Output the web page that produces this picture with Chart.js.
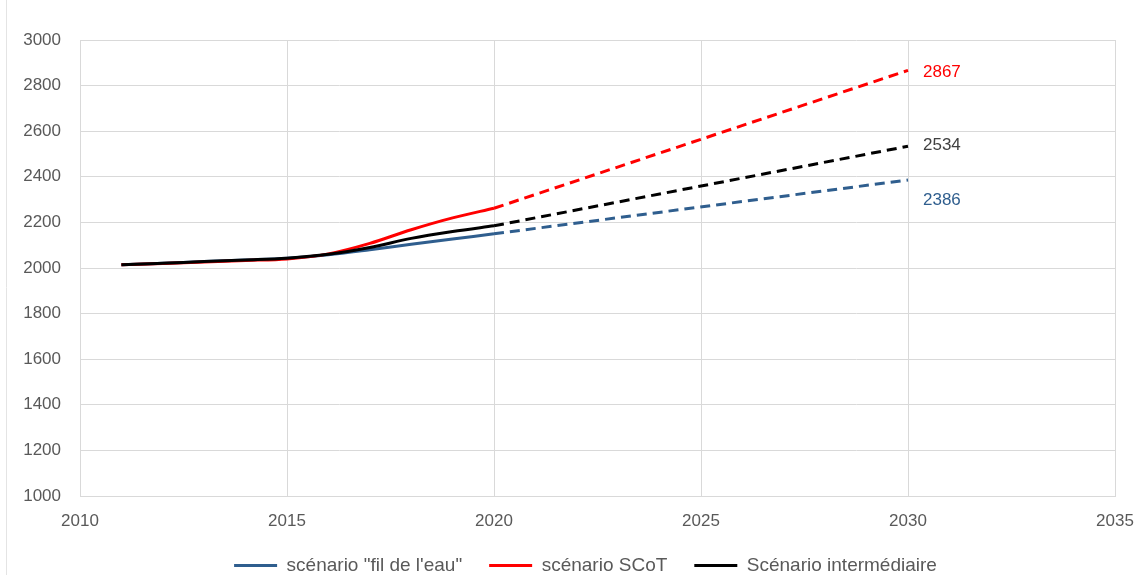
<!DOCTYPE html>
<html>
<head>
<meta charset="utf-8">
<script src="https://cdn.jsdelivr.net/npm/chart.js@4.4.1/dist/chart.umd.min.js"></script>
<style>
html,body{margin:0;padding:0;background:#fff;}
#wrap{width:1136px;height:575px;position:relative;}
</style>
</head>
<body>
<div id="wrap"><canvas id="c" width="1136" height="575"></canvas></div>
<script>
// ---- Data ----
const seriesNames = ['scénario "fil de l\'eau"', 'scénario SCoT', 'Scénario intermédiaire'];
const seriesColors = ['#2F5E8E', '#FF0000', '#000000'];
const labelColors = ['#2F5E8E', '#FF0000', '#404040'];
const histYears = [2011, 2012, 2013, 2014, 2015, 2016, 2017, 2018, 2019, 2020];
const histFil   = [2014, 2021, 2028, 2035, 2043, 2058, 2080, 2104, 2127, 2150];
const histSCoT  = [2014, 2020, 2026, 2033, 2040, 2062, 2108, 2168, 2220, 2262];
const histInter = [2014, 2021, 2028, 2035, 2043, 2060, 2090, 2130, 2160, 2185];
const projYears = [2020, 2030];
const projFil   = [2150, 2386];
const projSCoT  = [2262, 2867];
const projInter = [2185, 2534];
const endLabels = ['2386', '2867', '2534'];
const xTicks = [2010, 2015, 2020, 2025, 2030, 2035];
const yTicks = [1000, 1200, 1400, 1600, 1800, 2000, 2200, 2400, 2600, 2800, 3000];

const toXY = (xs, ys) => xs.map((x, i) => ({x: x, y: ys[i]}));
const hist = [histFil, histSCoT, histInter];
const proj = [projFil, projSCoT, projInter];
const orders = [2, 1, 0];

const datasets = [];
for (let i = 0; i < 3; i++) {
  datasets.push({
    label: seriesNames[i],
    data: toXY(histYears, hist[i]),
    borderColor: seriesColors[i],
    backgroundColor: seriesColors[i],
    borderWidth: 3,
    pointRadius: 0,
    cubicInterpolationMode: 'monotone',
    order: orders[i],
    isProj: false
  });
}
for (let i = 0; i < 3; i++) {
  datasets.push({
    label: seriesNames[i] + ' (projection)',
    data: toXY(projYears, proj[i]),
    borderColor: seriesColors[i],
    backgroundColor: seriesColors[i],
    borderWidth: 3,
    borderDash: [10, 6],
    pointRadius: 0,
    order: orders[i],
    isProj: true,
    endLabel: endLabels[i],
    endColor: labelColors[i],
    endOffset: i === 0 ? 20 : (i === 2 ? -1 : 2)
  });
}

const FONT = "'Liberation Sans', Arial, sans-serif";
const LEGEND_SHIFT = 28;

const endLabelPlugin = {
  id: 'endLabels',
  afterDatasetsDraw(chart) {
    const ctx = chart.ctx;
    const xs = chart.scales.x, ys = chart.scales.y;
    ctx.save();
    ctx.font = '17px ' + FONT;
    ctx.textAlign = 'left';
    ctx.textBaseline = 'middle';
    chart.data.datasets.forEach(ds => {
      if (!ds.isProj) return;
      const last = ds.data[ds.data.length - 1];
      ctx.fillStyle = ds.endColor;
      ctx.fillText(ds.endLabel, xs.getPixelForValue(last.x) + 15, ys.getPixelForValue(last.y) + ds.endOffset);
    });
    ctx.restore();
  }
};

const edgePlugin = {
  id: 'edge',
  afterLayout(chart) {
    if (chart.legend) {
      chart.legend.left += LEGEND_SHIFT;
      chart.legend.right += LEGEND_SHIFT;
    }
  },
  beforeDraw(chart) {
    const ctx = chart.ctx;
    ctx.save();
    ctx.strokeStyle = '#e4e4e4';
    ctx.lineWidth = 1;
    ctx.beginPath();
    ctx.moveTo(6.5, 0);
    ctx.lineTo(6.5, 575);
    ctx.stroke();
    ctx.restore();
  }
};

new Chart(document.getElementById('c'), {
  type: 'line',
  data: { datasets: datasets },
  plugins: [endLabelPlugin, edgePlugin],
  options: {
    responsive: false,
    animation: false,
    layout: { padding: { left: 0, right: 21, top: 40, bottom: -10 } },
    scales: {
      x: {
        type: 'linear',
        min: 2010, max: 2035,
        afterBuildTicks: s => { s.ticks = xTicks.map(v => ({value: v})); },
        afterFit: s => { s.height = 33; s.paddingLeft = 0; s.paddingRight = 0; },
        grid: { color: '#d9d9d9', drawTicks: false },
        border: { color: '#d9d9d9' },
        ticks: { color: '#595959', font: { size: 17, family: FONT }, padding: 15, maxRotation: 0,
                 callback: v => String(v) }
      },
      y: {
        min: 1000, max: 3000,
        afterBuildTicks: s => { s.ticks = yTicks.map(v => ({value: v})); },
        afterFit: s => { s.width = 80; s.paddingTop = 0; s.paddingBottom = 0; },
        grid: { color: '#d9d9d9', drawTicks: false },
        border: { color: '#d9d9d9' },
        ticks: { color: '#595959', font: { size: 17, family: FONT }, padding: 19,
                 callback: v => String(v) }
      }
    },
    plugins: {
      legend: {
        position: 'bottom',
        labels: {
          font: { size: 19, family: FONT },
          color: '#595959',
          boxWidth: 43,
          boxHeight: 3,
          padding: 27,
          generateLabels: chart => Chart.defaults.plugins.legend.labels.generateLabels(chart)
            .map(it => Object.assign(it, { lineWidth: 0 })),
          filter: item => !datasets[item.datasetIndex].isProj,
          sort: (a, b) => a.datasetIndex - b.datasetIndex
        }
      },
      tooltip: { enabled: false }
    }
  }
});
</script>
</body>
</html>
